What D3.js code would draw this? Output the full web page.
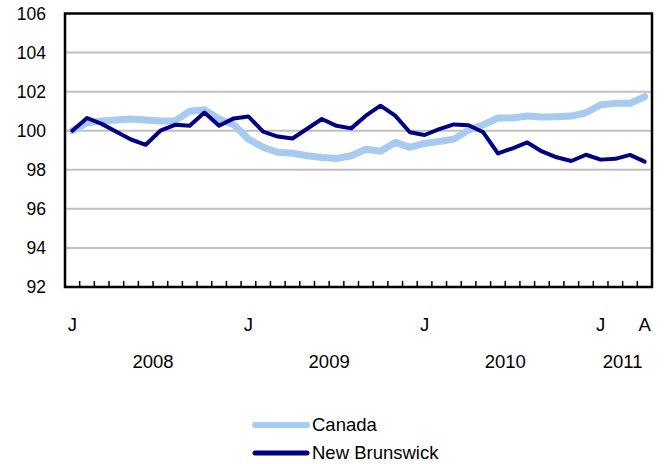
<!DOCTYPE html>
<html><head><meta charset="utf-8">
<script src="https://cdn.jsdelivr.net/npm/d3@7"></script>
<style>body{margin:0;background:#fff}svg{display:block}text{font-family:"Liberation Sans",Arial,sans-serif;fill:#000}</style>
</head><body><svg id="c" width="666" height="464"></svg>
<script>
const months = ["J","F","M","A","M","J","J","A","S","O","N","D"];
const years = [2008, 2009, 2010, 2011];
const canada = [100.0,100.4,100.5,100.55,100.6,100.55,100.5,100.5,101.0,101.07,100.6,100.3,99.57,99.15,98.9,98.85,98.72,98.63,98.58,98.72,99.05,98.95,99.4,99.15,99.35,99.45,99.57,100.03,100.3,100.65,100.65,100.75,100.7,100.72,100.75,100.92,101.33,101.4,101.4,101.74];
const newBrunswick = [100.0,100.65,100.35,99.95,99.55,99.28,100.0,100.3,100.25,100.93,100.25,100.63,100.73,99.95,99.7,99.6,100.1,100.6,100.25,100.12,100.77,101.28,100.77,99.92,99.78,100.08,100.32,100.28,99.92,98.84,99.1,99.4,98.94,98.64,98.45,98.77,98.52,98.56,98.76,98.42];
const yTicks = [92,94,96,98,100,102,104,106];
const labelledMonths = [0,12,24,36,39];
const seriesNames = ["Canada","New Brunswick"];
const colors = ["#a6caf0","#000080"];
const widths = [7,4];

const idx = d3.range(canada.length);
const svg = d3.select("#c");
const L=65, R=652, T=13.5, B=287;
const x = d3.scaleBand().domain(idx).range([L,R]);
const xc = i => x(i) + x.bandwidth()/2;
const y = d3.scaleLinear().domain([92,106]).range([B,T]);

// gridlines
svg.append("g").selectAll("line").data(yTicks.filter(v=>v>92&&v<106)).join("line")
  .attr("x1",L).attr("x2",R).attr("y1",d=>y(d)).attr("y2",d=>y(d))
  .attr("stroke","#c0c0c0").attr("stroke-width",2);

// y labels
const yAxis = d3.axisLeft(y).tickValues(yTicks).tickSize(0).tickPadding(19).tickFormat(d3.format("d"));
const ga = svg.append("g").attr("transform",`translate(${L},0)`).call(yAxis);
ga.select(".domain").remove();
ga.selectAll("text").style("font-size","17.5px").attr("font-family",null);

// lines
const lineGen = d3.line().x((d,i)=>xc(i)).y(d=>y(d));
[canada,newBrunswick].forEach((s,k)=>{
  svg.append("path").datum(s).attr("d",lineGen).attr("fill","none")
    .attr("stroke",colors[k]).attr("stroke-width",widths[k]).attr("stroke-linejoin","round").attr("stroke-linecap","round");
});

// frame
svg.append("rect").attr("x",L).attr("y",T).attr("width",R-L).attr("height",B-T)
  .attr("fill","none").attr("stroke","#000").attr("stroke-width",2.5);

// bottom ticks (month boundaries)
svg.append("g").selectAll("line").data(d3.range(1,canada.length)).join("line")
  .attr("x1",i=>x(i)).attr("x2",i=>x(i)).attr("y1",B).attr("y2",B-6)
  .attr("stroke","#000").attr("stroke-width",1.5);

// month labels
svg.append("g").selectAll("text").data(labelledMonths).join("text")
  .attr("x",i=>xc(i)).attr("y",331).attr("text-anchor","middle").style("font-size","18.5px")
  .text(i=>months[i%12]);

// year labels
svg.append("g").selectAll("text").data(years).join("text")
  .attr("x",(yr,k)=>{const s=k*12, e=Math.min(s+11, canada.length-1); return (xc(s)+xc(e))/2;})
  .attr("y",368).attr("text-anchor","middle").style("font-size","18.5px").text(d=>d);

// legend
const lg = svg.append("g");
seriesNames.forEach((n,k)=>{
  const yy = 425 + k*28;
  lg.append("line").attr("x1",255).attr("x2",307).attr("y1",yy).attr("y2",yy)
    .attr("stroke",colors[k]).attr("stroke-width",widths[k]==7?6:5).attr("stroke-linecap","round");
  lg.append("text").attr("x",312).attr("y",yy+6).style("font-size","18.5px").text(n);
});
</script></body></html>
